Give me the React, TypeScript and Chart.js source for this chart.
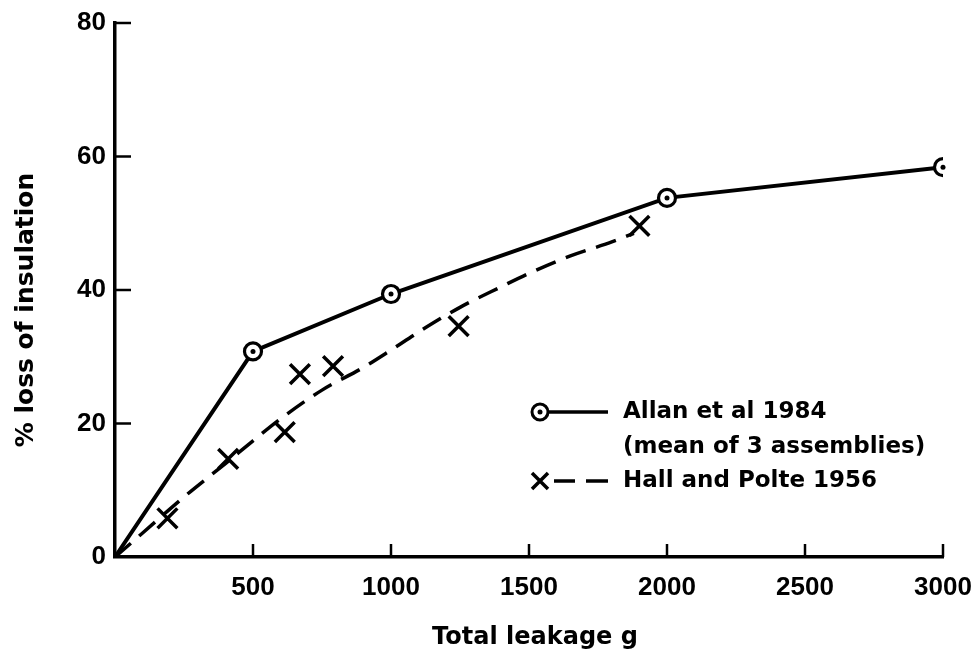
import React, { useEffect, useRef } from 'react';
import { Chart, registerables } from 'chart.js';

Chart.register(...registerables);

// ---- data ----
const allanLeakage = [0, 500, 1000, 2000, 3000];
const allanLoss = [0, 30.8, 39.4, 53.8, 58.4];

const hallLeakage = [190, 410, 615, 670, 790, 1245, 1900];
const hallLoss = [5.8, 14.7, 18.7, 27.4, 28.6, 34.6, 49.6];

const hallCurveLeakage = [0, 100, 250, 400, 500, 600, 750, 900, 1000, 1100, 1250, 1400, 1500, 1650, 1800, 1880];
const hallCurveLoss = [0, 3.6, 9, 14, 17.4, 20.7, 25, 28.4, 31, 33.7, 37.4, 40.5, 42.5, 45.1, 47.2, 48.5];

const xTickValues = [500, 1000, 1500, 2000, 2500, 3000];
const yTickValues = [0, 20, 40, 60, 80];

const xTitle = 'Total leakage g';
const yTitle = '% loss of insulation';
const legendAllan = ['Allan et al 1984', '(mean of 3 assemblies)'];
const legendHall = 'Hall and Polte 1956';

const TEXT_FONT = '"DejaVu Sans", sans-serif';
const TICK_FONT = '"Liberation Sans", Arial, sans-serif';

const decorPlugin = {
  id: 'decor',
  afterDatasetsDraw(chart: any) {
    const ctx = chart.ctx;
    const meta = chart.getDatasetMeta(2);
    ctx.save();
    ctx.fillStyle = '#000';
    meta.data.forEach((el: any, i: number) => {
      if (i === 0) return;
      ctx.beginPath();
      ctx.arc(el.x, el.y, 2.5, 0, Math.PI * 2);
      ctx.fill();
    });
    ctx.restore();
  },
  afterDraw(chart: any) {
    const { ctx, chartArea, scales } = chart;
    ctx.save();
    ctx.strokeStyle = '#000';
    ctx.lineWidth = 2.5;
    ctx.lineCap = 'butt';
    yTickValues.forEach((v) => {
      if (v === 0) return;
      const y = scales.y.getPixelForValue(v);
      ctx.beginPath();
      ctx.moveTo(chartArea.left, y);
      ctx.lineTo(chartArea.left + 16, y);
      ctx.stroke();
    });
    xTickValues.forEach((v) => {
      const x = scales.x.getPixelForValue(v);
      ctx.beginPath();
      ctx.moveTo(x, chartArea.bottom);
      ctx.lineTo(x, chartArea.bottom - 13);
      ctx.stroke();
    });

    // axis titles
    ctx.fillStyle = '#000';
    ctx.textAlign = 'center';
    ctx.textBaseline = 'middle';
    ctx.font = `bold 24px ${TEXT_FONT}`;
    ctx.fillText(xTitle, 535, 638);
    ctx.save();
    ctx.translate(26, 310);
    ctx.rotate(-Math.PI / 2);
    ctx.font = `bold 25px ${TEXT_FONT}`;
    ctx.fillText(yTitle, 0, 0);
    ctx.restore();

    // legend
    const lx = 540;
    const y1 = 412, y2 = 447, y3 = 481;
    ctx.lineWidth = 3.5;
    ctx.beginPath();
    ctx.moveTo(lx + 9, y1);
    ctx.lineTo(608, y1);
    ctx.stroke();
    ctx.lineWidth = 3;
    ctx.beginPath();
    ctx.arc(lx, y1, 8, 0, Math.PI * 2);
    ctx.fillStyle = '#fff';
    ctx.fill();
    ctx.stroke();
    ctx.fillStyle = '#000';
    ctx.beginPath();
    ctx.arc(lx, y1, 2.5, 0, Math.PI * 2);
    ctx.fill();

    ctx.lineWidth = 3.5;
    ctx.beginPath();
    ctx.moveTo(lx - 8, y3 - 8);
    ctx.lineTo(lx + 8, y3 + 8);
    ctx.moveTo(lx - 8, y3 + 8);
    ctx.lineTo(lx + 8, y3 - 8);
    ctx.stroke();
    ctx.lineWidth = 3.5;
    ctx.beginPath();
    ctx.moveTo(554, y3);
    ctx.lineTo(575, y3);
    ctx.moveTo(586, y3);
    ctx.lineTo(608, y3);
    ctx.stroke();

    ctx.textAlign = 'left';
    ctx.font = `bold 23px ${TEXT_FONT}`;
    ctx.fillText(legendAllan[0], 623, y1);
    ctx.fillText(legendAllan[1], 623, y2);
    ctx.fillText(legendHall, 623, y3);
    ctx.restore();
  },
};

export default function App() {
  const ref = useRef<HTMLCanvasElement | null>(null);

  useEffect(() => {
    const canvas = ref.current;
    if (!canvas) return;
    const chart = new Chart(canvas, {
      type: 'scatter',
      data: {
        datasets: [
          {
            label: 'Hall and Polte 1956 (curve)',
            data: hallCurveLeakage.map((x, i) => ({ x, y: hallCurveLoss[i] })),
            showLine: true,
            borderColor: '#000',
            borderWidth: 3.5,
            borderDash: [21, 11],
            pointRadius: 0,
            cubicInterpolationMode: 'monotone',
          },
          {
            label: 'Hall and Polte 1956',
            data: hallLeakage.map((x, i) => ({ x, y: hallLoss[i] })),
            showLine: false,
            pointStyle: 'crossRot',
            pointRadius: 14,
            pointBorderWidth: 3.5,
            borderColor: '#000',
            backgroundColor: '#000',
          },
          {
            label: 'Allan et al 1984',
            data: allanLeakage.map((x, i) => ({ x, y: allanLoss[i] })),
            showLine: true,
            borderColor: '#000',
            borderWidth: 4,
            pointStyle: 'circle',
            pointRadius: (c: any) => (c.dataIndex === 0 ? 0 : 8.5),
            pointBorderWidth: 3.2,
            pointBackgroundColor: '#fff',
            pointBorderColor: '#000',
          },
        ],
      } as any,
      options: {
        responsive: false,
        animation: false,
        events: [],
        layout: { padding: { top: 23, right: 34, left: 0, bottom: 0 } },
        plugins: {
          legend: { display: false },
          tooltip: { enabled: false },
        },
        scales: {
          x: {
            type: 'linear',
            min: 0,
            max: 3000,
            afterBuildTicks: (s: any) => {
              s.ticks = xTickValues.map((v) => ({ value: v }));
            },
            afterFit: (s: any) => {
              s.height = 100;
              s.paddingRight = 0;
              s.paddingLeft = 0;
            },
            grid: { display: true, drawOnChartArea: false, drawTicks: false },
            border: { display: true, color: '#000', width: 3.5 },
            ticks: {
              color: '#000',
              padding: 15,
              maxRotation: 0,
              callback: (v: any) => String(v),
              font: { family: TICK_FONT, size: 26, weight: 'bold' },
            },
          },
          y: {
            type: 'linear',
            min: 0,
            max: 80,
            afterBuildTicks: (s: any) => {
              s.ticks = yTickValues.map((v) => ({ value: v }));
            },
            afterFit: (s: any) => {
              s.width = 115;
              s.paddingTop = 0;
              s.paddingBottom = 0;
            },
            grid: { display: true, drawOnChartArea: false, drawTicks: false },
            border: { display: true, color: '#000', width: 3.5 },
            ticks: {
              color: '#000',
              padding: 9,
              callback: (v: any) => String(v),
              font: { family: TICK_FONT, size: 26, weight: 'bold' },
            },
          },
        },
      } as any,
      plugins: [decorPlugin],
    });
    return () => chart.destroy();
  }, []);

  return (
    <div style={{ position: 'fixed', left: 0, top: 0, width: 977, height: 657, background: '#fff' }}>
      <canvas ref={ref} width={977} height={657} style={{ display: 'block' }} />
    </div>
  );
}
